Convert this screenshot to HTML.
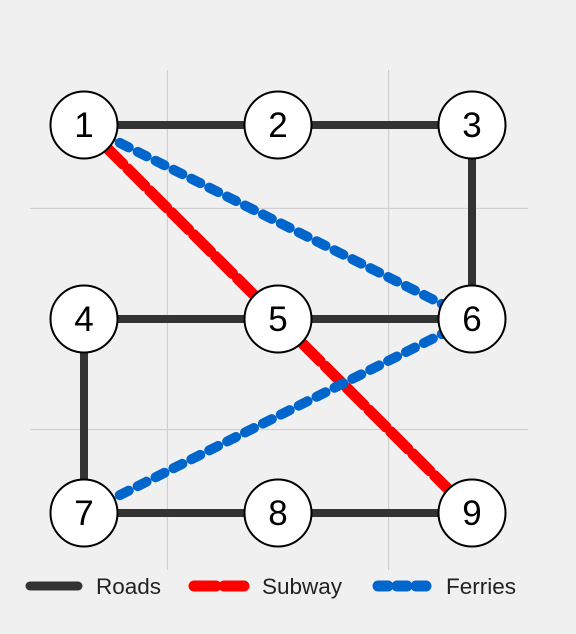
<!DOCTYPE html>
<html><head><meta charset="utf-8"><style>
body{margin:0;background:#f0f0f0;}
svg{display:block;font-family:"Liberation Sans",sans-serif;}
</style></head><body>
<svg id="c" width="576" height="634">
<rect width="576" height="634" fill="#f0f0f0"/>
<g id="grid"></g><g id="edges"></g><g id="nodes"></g>
<g id="legend">
<line x1="30" y1="586" x2="78" y2="586" stroke="#333" stroke-width="9" stroke-linecap="round"/>
<text x="96" y="594" font-size="22.5" fill="#222">Roads</text>
<line x1="194" y1="586" x2="244" y2="586" stroke="#f00" stroke-width="11" stroke-linecap="round" stroke-dasharray="22 8"/>
<text x="262" y="594" font-size="22.5" fill="#222">Subway</text>
<line x1="378" y1="586" x2="428" y2="586" stroke="#0066cc" stroke-width="11" stroke-linecap="round" stroke-dasharray="10 9"/>
<text x="446" y="594" font-size="22.5" fill="#222">Ferries</text>
</g>
</svg>
<script>
const nodeIds=[1,2,3,4,5,6,7,8,9];
const nodeCol=[0,1,2,0,1,2,0,1,2];
const nodeRow=[0,0,0,1,1,1,2,2,2];
const roads=[[1,2],[2,3],[3,6],[4,5],[5,6],[4,7],[7,8],[8,9]];
const subway=[[1,9]];
const ferries=[[1,6],[7,6]];
const gridX=[0.43,1.57];
const gridY=[0.43,1.57];
const sx=c=>84+c*194, sy=r=>125+r*194;
const NS="http://www.w3.org/2000/svg";
function mk(t,a,p){const e=document.createElementNS(NS,t);for(const k in a)e.setAttribute(k,a[k]);p.appendChild(e);return e;}
const G=document.getElementById('grid'),E=document.getElementById('edges'),N=document.getElementById('nodes');
gridX.forEach(g=>{const l=mk('line',{x1:sx(g),x2:sx(g),y1:70,y2:570,stroke:'#d0d0d0','stroke-width':1.2},G);

});
gridY.forEach(g=>{const l=mk('line',{x1:30,x2:528,y1:sy(g),y2:sy(g),stroke:'#d0d0d0','stroke-width':1.2},G);

});
function pos(id){const i=nodeIds.indexOf(id);return [sx(nodeCol[i]),sy(nodeRow[i])];}
function draw(list,style,name){list.forEach(([a,b])=>{const p=pos(a),q=pos(b);
const l=mk('line',Object.assign({x1:p[0],y1:p[1],x2:q[0],y2:q[1]},style),E);

});}
draw(roads,{stroke:'#333','stroke-width':8},'road');
draw(subway,{stroke:'#f00','stroke-width':11,'stroke-linecap':'round','stroke-dasharray':'24 7'},'subway');
draw(ferries,{stroke:'#0066cc','stroke-width':10,'stroke-linecap':'round','stroke-dasharray':'10 10'},'ferry');
nodeIds.forEach(id=>{const p=pos(id);
const g=mk('g',{},N);


mk('circle',{cx:p[0],cy:p[1],r:33.5,fill:'#fff',stroke:'#000','stroke-width':2},g);
const t=mk('text',{x:p[0],y:p[1]+12,'text-anchor':'middle','font-size':35,fill:'#000'},g);t.textContent=id;});
</script>
</body></html>
